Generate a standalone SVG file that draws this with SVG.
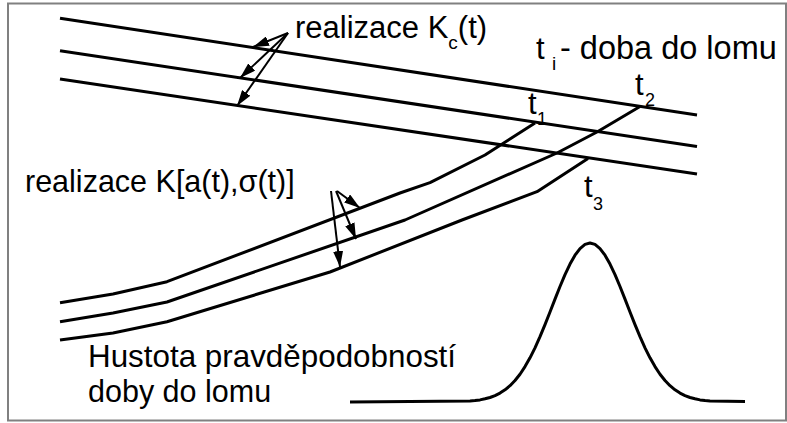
<svg xmlns="http://www.w3.org/2000/svg" width="787" height="423" viewBox="0 0 787 423">
<style>
.ln{fill:none;stroke:#000;stroke-width:3;stroke-linejoin:round;stroke-linecap:butt}
.ar{fill:none;stroke:#000;stroke-width:2}
.t{font-family:"Liberation Sans",Arial,sans-serif;fill:#000}
</style>
<defs>
<marker id="ah" markerUnits="userSpaceOnUse" markerWidth="17" markerHeight="10" refX="16" refY="5" orient="auto">
<path d="M0,0 L16,5 L0,10 z" fill="#000"/>
</marker>
</defs>
<rect x="8" y="3.5" width="778" height="417" fill="#fff" stroke="#808080" stroke-width="2"/>
<g id="kc-lines">
<line class="ln" x1="60" y1="18.3" x2="697" y2="115"/>
<line class="ln" x1="60" y1="50.7" x2="697" y2="146.5"/>
<line class="ln" x1="60" y1="79" x2="697" y2="174"/>
</g>
<g id="k-curves">
<polyline class="ln" points="60,302.7 113,294 167,281.7 400,193 430,182.7 485,155 535,123"/>
<polyline class="ln" points="60,321.7 113,313 167,302 405,220 557,153 597,132 640,106.5"/>
<polyline class="ln" points="60,340 113,333 167,321.7 330,272 462,220 537,191.7 588,158.5"/>
</g>
<g id="density">
<polyline class="ln" points="350,402 470,401 475,400.6 480,399.9 485,398.8 490,397.5 495,395.6 500,393.1 505,389.8 510,385.7 515,380.5 520,374.2 525,366.6 530,357.8 535,347.8 540,336.6 545,324.6 550,312 555,299.1 560,286.5 565,274.7 570,264.1 575,255.2 580,248.6 585,244.4 590,243 595,244.4 600,248.6 605,255.2 610,264.1 615,274.7 620,286.5 625,299.1 630,312 635,324.6 640,336.6 645,347.8 650,357.8 655,366.6 660,374.2 665,380.5 670,385.7 675,389.8 680,393.1 685,395.6 690,397.5 695,398.8 700,399.9 705,400.6 710,401 745,401.5"/>
</g>
<g id="connectors">
<line class="ar" x1="288" y1="33" x2="253" y2="47" marker-end="url(#ah)"/>
<line class="ar" x1="288" y1="33" x2="240" y2="78" marker-end="url(#ah)"/>
<line class="ar" x1="288" y1="33" x2="237" y2="106" marker-end="url(#ah)"/>
<line class="ar" x1="337" y1="191" x2="360" y2="208" marker-end="url(#ah)"/>
<line class="ar" x1="336" y1="191" x2="356" y2="239" marker-end="url(#ah)"/>
<line class="ar" x1="331" y1="191" x2="340" y2="267" marker-end="url(#ah)"/>
</g>
<g id="label-kc">
<text class="t" x="295" y="38" font-size="31">realizace K<tspan dy="11" font-size="19">c</tspan><tspan dy="-11" font-size="31">(t)</tspan></text>
</g>
<g id="label-ti">
<text class="t" x="536" y="59" font-size="31">t</text>
<text class="t" x="552" y="70" font-size="19">i</text>
<text class="t" x="560" y="59" font-size="32.5">- doba do lomu</text>
</g>
<g id="label-k">
<text class="t" x="25" y="192" font-size="30.5">realizace K[a(t),σ(t)]</text>
</g>
<g id="label-t1">
<text class="t" x="528" y="114" font-size="31">t</text>
<text class="t" x="537" y="125" font-size="18">1</text>
</g>
<g id="label-t2">
<text class="t" x="635" y="95" font-size="31">t</text>
<text class="t" x="645" y="106" font-size="18">2</text>
</g>
<g id="label-t3">
<text class="t" x="584" y="197" font-size="31">t</text>
<text class="t" x="593" y="210" font-size="18">3</text>
</g>
<g id="label-density">
<text class="t" x="88" y="367" font-size="30.5" textLength="368" lengthAdjust="spacingAndGlyphs">Hustota pravděpodobností</text>
<text class="t" x="88" y="402" font-size="30.5">doby do lomu</text>
</g>
</svg>
